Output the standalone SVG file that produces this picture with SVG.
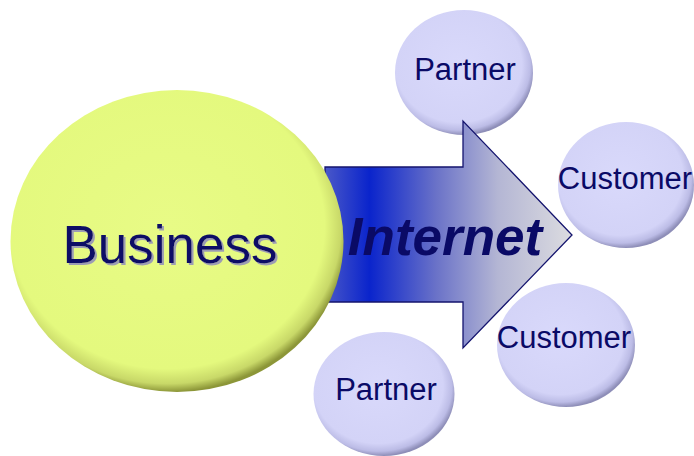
<svg xmlns="http://www.w3.org/2000/svg" width="694" height="456" viewBox="0 0 694 456">
<style>
.lbl{font-family:"Liberation Sans",Arial,sans-serif;fill:#0a0a66;text-anchor:middle}
.small{font-size:31px}
</style>
<defs>
<filter id="shadow" x="-10%" y="-20%" width="120%" height="140%">
<feDropShadow dx="2" dy="2" stdDeviation="0.3" flood-color="#9c9cb4" flood-opacity="1"/>
</filter>
<radialGradient id="gBlue" cx="0.46" cy="0.44" r="0.56">
<stop offset="0" stop-color="#d9d9fb"/>
<stop offset="0.82" stop-color="#d3d3f7"/>
<stop offset="0.93" stop-color="#bcbce6"/>
<stop offset="1" stop-color="#8e8eb8"/>
</radialGradient>
<radialGradient id="gYel" cx="0.47" cy="0.45" r="0.55">
<stop offset="0" stop-color="#e8fb86"/>
<stop offset="0.86" stop-color="#e4f97e"/>
<stop offset="0.95" stop-color="#c8d868"/>
<stop offset="1" stop-color="#8c9638"/>
</radialGradient>
<linearGradient id="gArrow" x1="325" y1="0" x2="572" y2="0" gradientUnits="userSpaceOnUse">
<stop offset="0" stop-color="#4a58c8"/>
<stop offset="0.18" stop-color="#0a24cc"/>
<stop offset="0.45" stop-color="#6a72c8"/>
<stop offset="0.7" stop-color="#b4b6d4"/>
<stop offset="1" stop-color="#dcdce0"/>
</linearGradient>
</defs>
<g id="partner-top">
<ellipse cx="464" cy="72.5" rx="69" ry="62.5" fill="url(#gBlue)"/>
<text class="lbl small" x="465" y="80">Partner</text>
</g>
<g id="connectors">
<path id="internet-arrow" d="M325,167 H463 V121 L572,235 L463,348 V302 H325 Z" fill="url(#gArrow)" stroke="#14146e" stroke-width="1.3" stroke-linejoin="miter"/>
<text class="lbl" x="445" y="255" font-size="53" font-weight="bold" font-style="italic">Internet</text>
</g>
<g id="business">
<ellipse cx="177" cy="241" rx="166.5" ry="151" fill="url(#gYel)"/>
<text class="lbl" x="170" y="263" font-size="53" filter="url(#shadow)">Business</text>
</g>
<g id="customer-top">
<ellipse cx="626" cy="185" rx="68" ry="63" fill="url(#gBlue)"/>
<text class="lbl small" x="625" y="189">Customer</text>
</g>
<g id="customer-bottom">
<ellipse cx="566" cy="345" rx="69" ry="62" fill="url(#gBlue)"/>
<text class="lbl small" x="564" y="348">Customer</text>
</g>
<g id="partner-bottom">
<ellipse cx="384" cy="394" rx="70.5" ry="62" fill="url(#gBlue)"/>
<text class="lbl small" x="386" y="400">Partner</text>
</g>
</svg>
